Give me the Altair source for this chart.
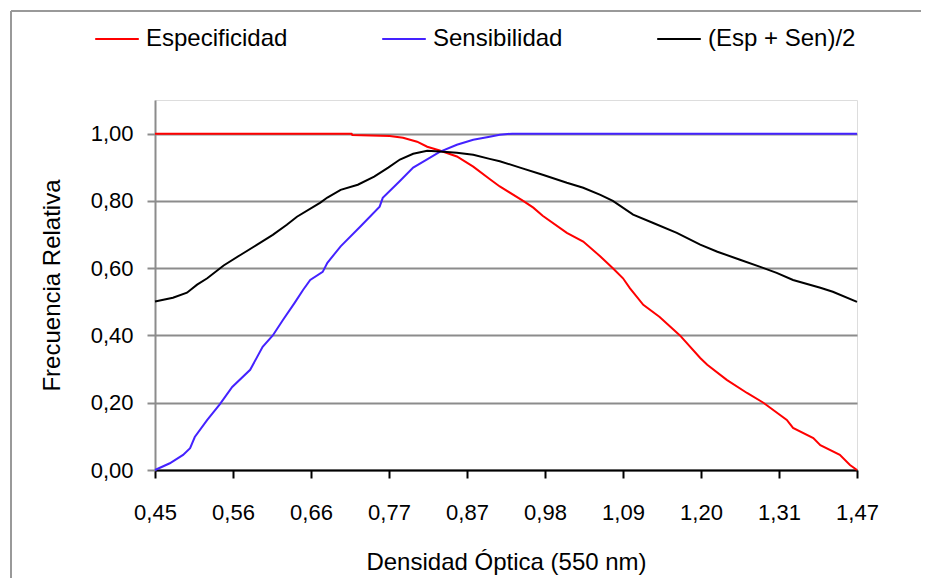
import json
import altair as alt
import pandas as pd

# ---- data ----
x_labels = ["0,45", "0,56", "0,66", "0,77", "0,87", "0,98", "1,09", "1,20", "1,31", "1,47"]
series_names = ["Especificidad", "Sensibilidad", "(Esp + Sen)/2"]
series_colors = ["#FF0000", "#4422FF", "#000000"]

# x is the category position along the axis (0 = "0,45" ... 9 = "1,47")
esp_x = [0.00, 2.52, 2.53, 3.01, 3.18, 3.36, 3.49, 3.65, 3.87, 4.08, 4.29, 4.42, 4.72, 4.85,
         4.97, 5.28, 5.49, 5.71, 5.87, 6.00, 6.09, 6.26, 6.47, 6.73, 6.99, 7.08, 7.33, 7.59,
         7.80, 8.10, 8.18, 8.44, 8.53, 8.78, 8.91, 9.00]
esp_y = [1.000, 1.000, 0.996, 0.993, 0.988, 0.976, 0.961, 0.950, 0.932, 0.902, 0.865, 0.843,
         0.800, 0.780, 0.756, 0.705, 0.679, 0.635, 0.600, 0.570, 0.540, 0.491, 0.455, 0.400,
         0.333, 0.313, 0.268, 0.229, 0.200, 0.149, 0.125, 0.095, 0.074, 0.045, 0.015, 0.000]

sen_x = [0.00, 0.19, 0.36, 0.45, 0.51, 0.67, 0.83, 0.99, 1.22, 1.38, 1.51, 1.64, 1.79, 1.90,
         1.99, 2.15, 2.21, 2.38, 2.63, 2.88, 2.92, 3.13, 3.31, 3.44, 3.65, 3.87, 4.08, 4.29,
         4.42, 4.58, 9.00]
sen_y = [0.000, 0.020, 0.045, 0.065, 0.098, 0.149, 0.195, 0.247, 0.298, 0.366, 0.400, 0.446,
         0.497, 0.536, 0.565, 0.589, 0.616, 0.665, 0.723, 0.783, 0.809, 0.857, 0.899, 0.917,
         0.946, 0.967, 0.982, 0.991, 0.997, 1.000, 1.000]

avg_x = [0.00, 0.23, 0.41, 0.54, 0.67, 0.88, 1.10, 1.31, 1.51, 1.69, 1.82, 2.12, 2.21, 2.38,
         2.60, 2.81, 2.99, 3.14, 3.31, 3.49, 3.65, 3.87, 4.08, 4.29, 4.42, 4.68, 4.97, 5.28,
         5.49, 5.71, 5.87, 6.13, 6.38, 6.69, 6.99, 7.21, 7.50, 7.76, 7.97, 8.18, 8.53, 8.69, 9.00]
avg_y = [0.501, 0.512, 0.527, 0.551, 0.570, 0.608, 0.640, 0.670, 0.699, 0.729, 0.753, 0.795,
         0.810, 0.833, 0.848, 0.872, 0.899, 0.923, 0.940, 0.949, 0.947, 0.943, 0.937, 0.925,
         0.918, 0.899, 0.878, 0.854, 0.839, 0.818, 0.800, 0.759, 0.735, 0.705, 0.670, 0.649,
         0.625, 0.604, 0.586, 0.565, 0.542, 0.530, 0.500]

y_ticks = [0.0, 0.2, 0.4, 0.6, 0.8, 1.0]

rows = []
for name, xs, ys in zip(series_names, [esp_x, sen_x, avg_x], [esp_y, sen_y, avg_y]):
    for i, (a, b) in enumerate(zip(xs, ys)):
        rows.append({"serie": name, "pos": a, "valor": b, "orden": i})
df = pd.DataFrame(rows)

FONT = "Liberation Sans"
x_label_expr = json.dumps(x_labels) + "[round(datum.value)]"
y_label_expr = "replace(format(datum.value, '.2f'), '.', ',')"

lines = alt.Chart(df).mark_line(strokeWidth=2).encode(
    x=alt.X(
        "pos:Q",
        scale=alt.Scale(domain=[0, 9], nice=False, zero=False),
        axis=alt.Axis(
            values=list(range(10)), labelExpr=x_label_expr, grid=False,
            title="Densidad Óptica (550 nm)",
            domainColor="#000000", domainWidth=2, tickColor="#000000", tickWidth=2,
            tickSize=8, labelPadding=24, labelFontSize=22, labelFlush=False,
            labelFont=FONT, labelColor="#000000",
            titleFont=FONT, titleColor="#000000", titleFontWeight="normal",
            titleFontSize=24, titleX=351, titleY=92, titleBaseline="middle",
            titleAlign="center",
        ),
    ),
    y=alt.Y(
        "valor:Q",
        scale=alt.Scale(domain=[0, 1.1], nice=False),
        axis=alt.Axis(
            values=y_ticks, labelExpr=y_label_expr, grid=True,
            gridColor="#8C8C8C", gridWidth=2,
            title="Frecuencia Relativa",
            domainColor="#8C8C8C", domainWidth=2, tickColor="#8C8C8C", tickWidth=2,
            tickSize=8, labelPadding=14, labelFontSize=22,
            labelFont=FONT, labelColor="#000000",
            titleFont=FONT, titleColor="#000000", titleFontWeight="normal",
            titleFontSize=24, titleX=-103, titleY=185, titleAngle=270,
            titleBaseline="middle", titleAlign="center",
        ),
    ),
    color=alt.Color(
        "serie:N",
        scale=alt.Scale(domain=series_names, range=series_colors),
        legend=alt.Legend(
            title=None, orient="none", legendX=-61, legendY=-84, direction="horizontal",
            symbolType="stroke", symbolSize=1900, symbolStrokeWidth=2,
            labelFontSize=24, labelOffset=6, columnPadding=90, labelColor="#000000",
            labelFont=FONT,
        ),
    ),
    order="orden:Q",
)

# outer chart frame: only its left and top edges are inside the visible page
frame_src = pd.DataFrame({"k": [0]})
frame_v = alt.Chart(frame_src).mark_rule(color="#999999", strokeWidth=2).encode(
    x=alt.value(-144), y=alt.value(-89), y2=alt.value(478)
)
frame_h = alt.Chart(frame_src).mark_rule(color="#999999", strokeWidth=2).encode(
    x=alt.value(-144), x2=alt.value(766), y=alt.value(-89)
)

chart = alt.layer(frame_v, frame_h, lines).properties(
    width=702, height=370,
    autosize=alt.AutoSizeParams(type="none"),
    padding={"left": 147, "top": 92, "right": 66, "bottom": 108},
).configure_view(stroke=None).configure(background="#FFFFFF")

chart.save("out.html", embed_options={"renderer": "svg", "actions": False})
